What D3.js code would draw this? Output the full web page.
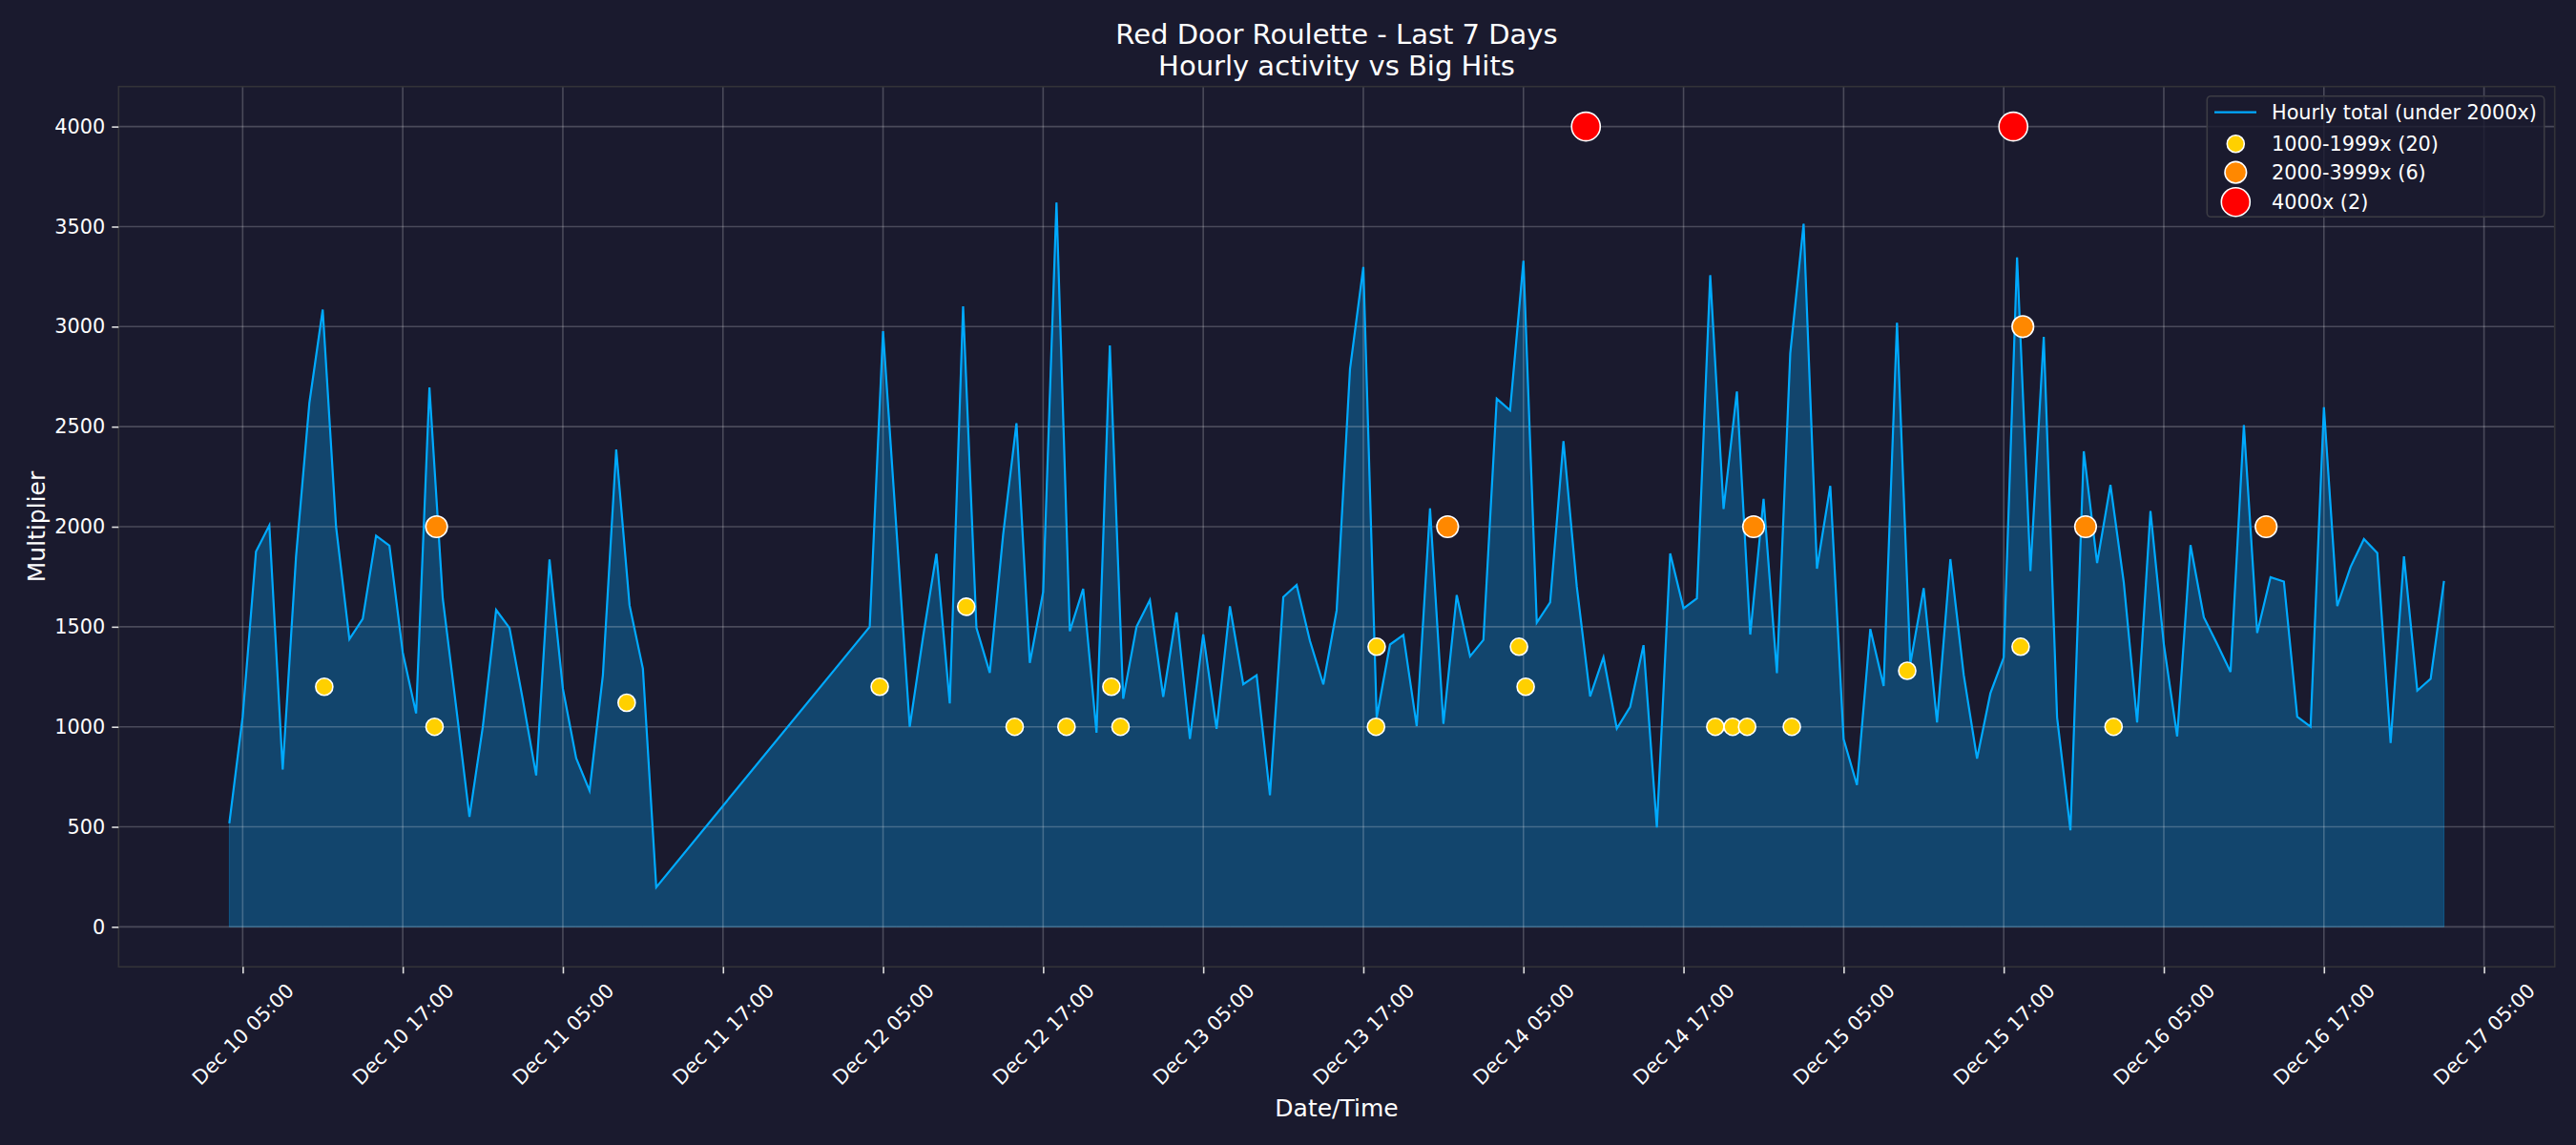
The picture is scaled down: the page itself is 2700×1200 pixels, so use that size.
<!DOCTYPE html>
<html><head><meta charset="utf-8">
<script src="https://cdn.jsdelivr.net/npm/d3@7"></script>
<style>
html,body{margin:0;padding:0;background:#1a1a2e;}
svg{display:block;font-family:"DejaVu Sans",sans-serif;}
</style></head><body>
<svg id="chart" width="2700" height="1200"></svg>
<script>
// ---------- DATA ----------
// Hourly totals, segment 1 starts Dec 10 04:00, one value per hour
const seg1Start = "2024-12-10T04:00";
const seg1Values = [517,1050,1876,2007,786,1850,2618,3085,2000,1438,1539,1955,1905,1371,1067,2696,
  1640,1100,550,1000,1584,1494,1135,757,1836,1191,843,681,1258,2386,1607,1290,198];
// Segment 2 starts Dec 12 04:00, one value per hour
const seg2Start = "2024-12-12T04:00";
const seg2Values = [1500,2977,1990,1000,1449,1865,1117,3101,1494,1270,1960,2517,1319,1674,3620,1478,
  1690,970,2906,1140,1500,1633,1150,1571,939,1462,990,1602,1212,1258,658,1648,1709,1429,1212,1582,
  2788,3298,1046,1411,1459,1003,2092,1015,1658,1352,1434,2640,2582,3329,1520,1621,2428,1700,1152,1348,
  991,1100,1408,497,1866,1592,1642,3257,2089,2676,1461,2139,1268,2866,3514,1790,2204,938,709,1489,
  1204,3019,1315,1693,1022,1838,1260,841,1167,1346,3346,1779,2949,1046,483,2377,1818,2209,1720,1022,
  2078,1413,952,1908,1547,1413,1274,2508,1469,1748,1726,1050,1000,2597,1603,1799,1938,1869,919,1852,
  1181,1240,1729];

// Big hits 1000-1999x
const hitsYellowTimes = ["2024-12-10T11:07","2024-12-10T19:23","2024-12-11T09:47","2024-12-12T04:45",
  "2024-12-12T11:14","2024-12-12T14:52","2024-12-12T18:45","2024-12-12T22:07","2024-12-12T22:48",
  "2024-12-13T17:57","2024-12-13T18:00","2024-12-14T04:40","2024-12-14T05:10","2024-12-14T19:23",
  "2024-12-14T20:41","2024-12-14T21:46","2024-12-15T01:07","2024-12-15T09:46","2024-12-15T18:16",
  "2024-12-16T01:14"];
const hitsYellowValues = [1200,1000,1120,1200,1600,1000,1000,1200,1000,1000,1400,1400,1200,1000,1000,
  1000,1000,1280,1400,1000];
// Big hits 2000-3999x
const hitsOrangeTimes = ["2024-12-10T19:32","2024-12-13T23:19","2024-12-14T22:15","2024-12-15T18:26",
  "2024-12-15T23:08","2024-12-16T12:40"];
const hitsOrangeValues = [2000,2000,2000,3000,2000,2000];
// Big hits 4000x
const hitsRedTimes = ["2024-12-14T09:41","2024-12-15T17:43"];
const hitsRedValues = [4000,4000];

const xTickTimes = ["2024-12-10T05:00","2024-12-10T17:00","2024-12-11T05:00","2024-12-11T17:00",
  "2024-12-12T05:00","2024-12-12T17:00","2024-12-13T05:00","2024-12-13T17:00","2024-12-14T05:00",
  "2024-12-14T17:00","2024-12-15T05:00","2024-12-15T17:00","2024-12-16T05:00","2024-12-16T17:00",
  "2024-12-17T05:00"];
const yTicks = [0,500,1000,1500,2000,2500,3000,3500,4000];

const titleLines = ["Red Door Roulette - Last 7 Days","Hourly activity vs Big Hits"];
const legendLabels = ["Hourly total (under 2000x)","1000-1999x (20)","2000-3999x (6)","4000x (2)"];

// ---------- BUILD ----------
const parse = d3.timeParse("%Y-%m-%dT%H:%M");
function hourly(start, vals){ const t0 = parse(start); return vals.map((v,i)=>({t:d3.timeHour.offset(t0,i), v})); }
const series = hourly(seg1Start, seg1Values).concat(hourly(seg2Start, seg2Values));
const mk = (ts, vs) => ts.map((t,i)=>({t:parse(t), v:vs[i]}));
const yellow = mk(hitsYellowTimes, hitsYellowValues);
const orange = mk(hitsOrangeTimes, hitsOrangeValues);
const red = mk(hitsRedTimes, hitsRedValues);

const L = 124.3, R = 2677.7, T = 90.7, B = 1013.3;
const ext = d3.extent(series, d=>d.t);
const pad = (ext[1]-ext[0])*0.05;
const x = d3.scaleTime().domain([new Date(+ext[0]-pad), new Date(+ext[1]+pad)]).range([L,R]);
const y = d3.scaleLinear().domain([-200,4200]).range([B,T]);

const svg = d3.select("#chart");
svg.append("rect").attr("width",2700).attr("height",1200).attr("fill","#1a1a2e");
svg.append("defs").append("clipPath").attr("id","clip").append("rect")
  .attr("x",L).attr("y",T).attr("width",R-L).attr("height",B-T);

const plot = svg.append("g").attr("clip-path","url(#clip)");
const LINE = "#00aaff";
const FS = 20.8;

// fill
plot.append("path").datum(series)
  .attr("d", d3.area().x(d=>x(d.t)).y0(y(0)).y1(d=>y(d.v)))
  .attr("fill",LINE).attr("fill-opacity",0.3)
  .attr("stroke",LINE).attr("stroke-opacity",0.3).attr("stroke-width",1);

// grid
const xt = xTickTimes.map(parse);
const grid = plot.append("g").attr("stroke","#ffffff").attr("stroke-opacity",0.21).attr("stroke-width",1.6);
xt.forEach(t=>grid.append("line").attr("x1",x(t)).attr("x2",x(t)).attr("y1",T).attr("y2",B));
yTicks.forEach(v=>grid.append("line").attr("x1",L).attr("x2",R).attr("y1",y(v)).attr("y2",y(v)));

// line
plot.append("path").datum(series)
  .attr("d", d3.line().x(d=>x(d.t)).y(d=>y(d.v)))
  .attr("fill","none").attr("stroke",LINE).attr("stroke-width",2.2).attr("stroke-linejoin","miter");

// scatter
function dots(data, color, r){
  plot.append("g").selectAll("circle").data(data).join("circle")
    .attr("cx",d=>x(d.t)).attr("cy",d=>y(d.v)).attr("r",r)
    .attr("fill",color).attr("stroke","#ffffff").attr("stroke-width",1.6);
}
dots(yellow,"#FFD000",9);
dots(orange,"#FF8800",11.3);
dots(red,"#FF0000",15);

// spines
svg.append("rect").attr("x",L).attr("y",T).attr("width",R-L).attr("height",B-T)
  .attr("fill","none").attr("stroke","#333338").attr("stroke-width",1.6);

// y axis
const yAxis = d3.axisLeft(y).tickValues(yTicks).tickSize(7).tickPadding(7).tickFormat(d3.format("d"));
const gy = svg.append("g").attr("transform",`translate(${L},0)`).call(yAxis);
gy.select(".domain").remove();
gy.selectAll(".tick line").attr("stroke","#e0e0e0").attr("stroke-width",1.6);
gy.selectAll(".tick text").attr("fill","#ffffff").attr("font-size",FS).attr("font-family","DejaVu Sans");

// x axis
const xAxis = d3.axisBottom(x).tickValues(xt).tickSize(7).tickFormat(d3.timeFormat("%b %d %H:%M"));
const gx = svg.append("g").attr("transform",`translate(0,${B})`).call(xAxis);
gx.select(".domain").remove();
gx.selectAll(".tick line").attr("stroke","#e0e0e0").attr("stroke-width",1.6);
gx.selectAll(".tick text").each(function(){
  const t = d3.select(this);
  t.attr("fill","#ffffff").attr("font-size",FS).attr("font-family","DejaVu Sans")
   .attr("text-anchor","middle").attr("dy",null).attr("dominant-baseline","central").attr("y",0);
  const bb = this.getBBox();
  const half = (bb.width + bb.height*0.8)*Math.SQRT1_2/2;
  t.attr("transform",`translate(0,${14.5+half}) rotate(-45)`);
});

// labels
svg.append("text").attr("x",(L+R)/2).attr("y",1170).attr("text-anchor","middle")
  .attr("fill","#ffffff").attr("font-size",25).text("Date/Time");
svg.append("text").attr("transform",`translate(38,${(T+B)/2}) rotate(-90)`).attr("text-anchor","middle")
  .attr("dominant-baseline","central").attr("fill","#ffffff").attr("font-size",25).text("Multiplier");
titleLines.forEach((s,i)=>svg.append("text").attr("x",(L+R)/2).attr("y",46+i*32.5)
  .attr("text-anchor","middle").attr("fill","#ffffff").attr("font-size",29).text(s));

// legend
const lg = svg.append("g");
lg.append("rect").attr("x",2313.3).attr("y",100.7).attr("width",353.4).attr("height",126.6)
  .attr("rx",4).attr("fill","#1a1a2e").attr("fill-opacity",0.8).attr("stroke","#3c3c44").attr("stroke-width",1.6);
const rowY = [117.7,150.7,180.7,211.7];
lg.append("line").attr("x1",2321).attr("x2",2365).attr("y1",rowY[0]).attr("y2",rowY[0])
  .attr("stroke",LINE).attr("stroke-width",2.2);
[["#FFD000",9],["#FF8800",11.3],["#FF0000",15]].forEach((c,i)=>{
  lg.append("circle").attr("cx",2343.3).attr("cy",rowY[i+1]).attr("r",c[1])
    .attr("fill",c[0]).attr("stroke","#ffffff").attr("stroke-width",1.6);
});
legendLabels.forEach((s,i)=>lg.append("text").attr("x",2381).attr("y",rowY[i]).attr("dominant-baseline","central")
  .attr("fill","#ffffff").attr("font-size",FS).text(s));
</script>
</body></html>
